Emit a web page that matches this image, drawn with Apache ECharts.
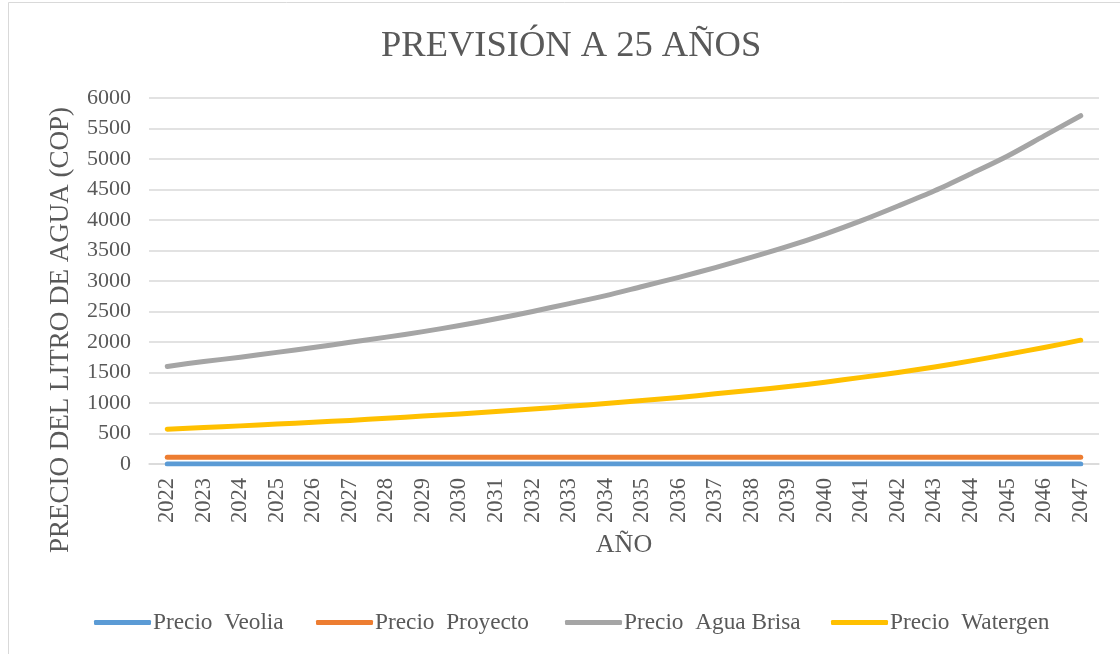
<!DOCTYPE html>
<html>
<head>
<meta charset="utf-8">
<script src="https://cdn.jsdelivr.net/npm/echarts@6/dist/echarts.min.js"></script>
<style>html,body{margin:0;padding:0;background:#fff;}#c{width:1120px;height:654px;}</style>
</head>
<body>
<div id="c"></div>
<script>
const years = ['2022','2023','2024','2025','2026','2027','2028','2029','2030','2031','2032','2033','2034','2035','2036','2037','2038','2039','2040','2041','2042','2043','2044','2045','2046','2047'];
const veolia = [2,2,2,2,2,2,2,2,2,2,2,2,2,2,2,2,2,2,2,2,2,2,2,2,2,2];
const proyecto = [110,110,110,110,110,110,110,110,110,110,110,110,110,110,110,110,110,110,110,110,110,110,110,110,110,110];
const aguaBrisa = [1600,1680,1750,1830,1910,1995,2080,2170,2270,2380,2500,2630,2760,2910,3060,3220,3390,3570,3770,3990,4230,4480,4760,5050,5380,5710];
const watergen = [570,600,625,655,685,715,750,785,820,860,900,945,990,1040,1090,1150,1210,1270,1340,1420,1500,1590,1690,1800,1910,2030];
const seriesNames = ['Precio  Veolia','Precio  Proyecto','Precio  Agua Brisa','Precio  Watergen'];
const colors = ['#5b9bd5','#ed7d31','#a5a5a5','#ffc000'];
const yTicks = {min:0, max:6000, interval:500};

const font = '"Liberation Serif","Times New Roman",serif';
const txt = '#595959';
const chart = echarts.init(document.getElementById('c'));
const mk = (name, data, i) => ({
  name, type:'line', data, smooth:0.3, symbol:'none', color:colors[i],
  lineStyle:{width:5, color:colors[i], cap:'round', join:'round'}
});
const legendLefts = [89, 311, 560, 826];
const legends = seriesNames.map((n, i) => ({
  data:[n], left:legendLefts[i], top:606, icon:'roundRect', itemWidth:57, itemHeight:5, itemGap:0,
  textStyle:{fontFamily:font, fontSize:23.3, color:txt, padding:[0,0,0,-3]}
}));
chart.setOption({
  backgroundColor:'#fff',
  animation:false,
  title:{text:'PREVISIÓN A 25 AÑOS', left:376, top:23,
    textStyle:{fontFamily:font, fontSize:36.5, fontWeight:'normal', color:txt}},
  grid:{left:149, right:21, top:98, bottom:190},
  legend:legends,
  xAxis:{type:'category', data:years, boundaryGap:true,
    name:'AÑO', nameLocation:'middle', nameGap:68,
    nameTextStyle:{fontFamily:font, fontSize:26, color:txt},
    axisLine:{lineStyle:{color:'#d9d9d9', width:1.5}}, axisTick:{show:false},
    axisLabel:{rotate:90, interval:0, fontFamily:font, fontSize:22.5, color:txt, margin:14}},
  yAxis:{type:'value', min:yTicks.min, max:yTicks.max, interval:yTicks.interval,
    axisLine:{show:false}, axisTick:{show:false},
    splitLine:{lineStyle:{color:'#d9d9d9', width:1.5}},
    axisLabel:{fontFamily:font, fontSize:22, color:txt, margin:18, formatter:v => String(v)}},
  graphic:[
    {type:'rect', shape:{x:8.5, y:2.5, width:1300, height:1000}, style:{fill:null, stroke:'#d9d9d9', lineWidth:1}, silent:true, z:-1},
    {type:'text', x:61, y:330, rotation:Math.PI/2,
      style:{text:'PRECIO DEL LITRO DE AGUA (COP)', fontFamily:font, fontSize:27, fill:txt, align:'center', verticalAlign:'middle'}}
  ],
  series:[mk(seriesNames[0], veolia,0), mk(seriesNames[1], proyecto,1), mk(seriesNames[2], aguaBrisa,2), mk(seriesNames[3], watergen,3)]
});
</script>
</body>
</html>
